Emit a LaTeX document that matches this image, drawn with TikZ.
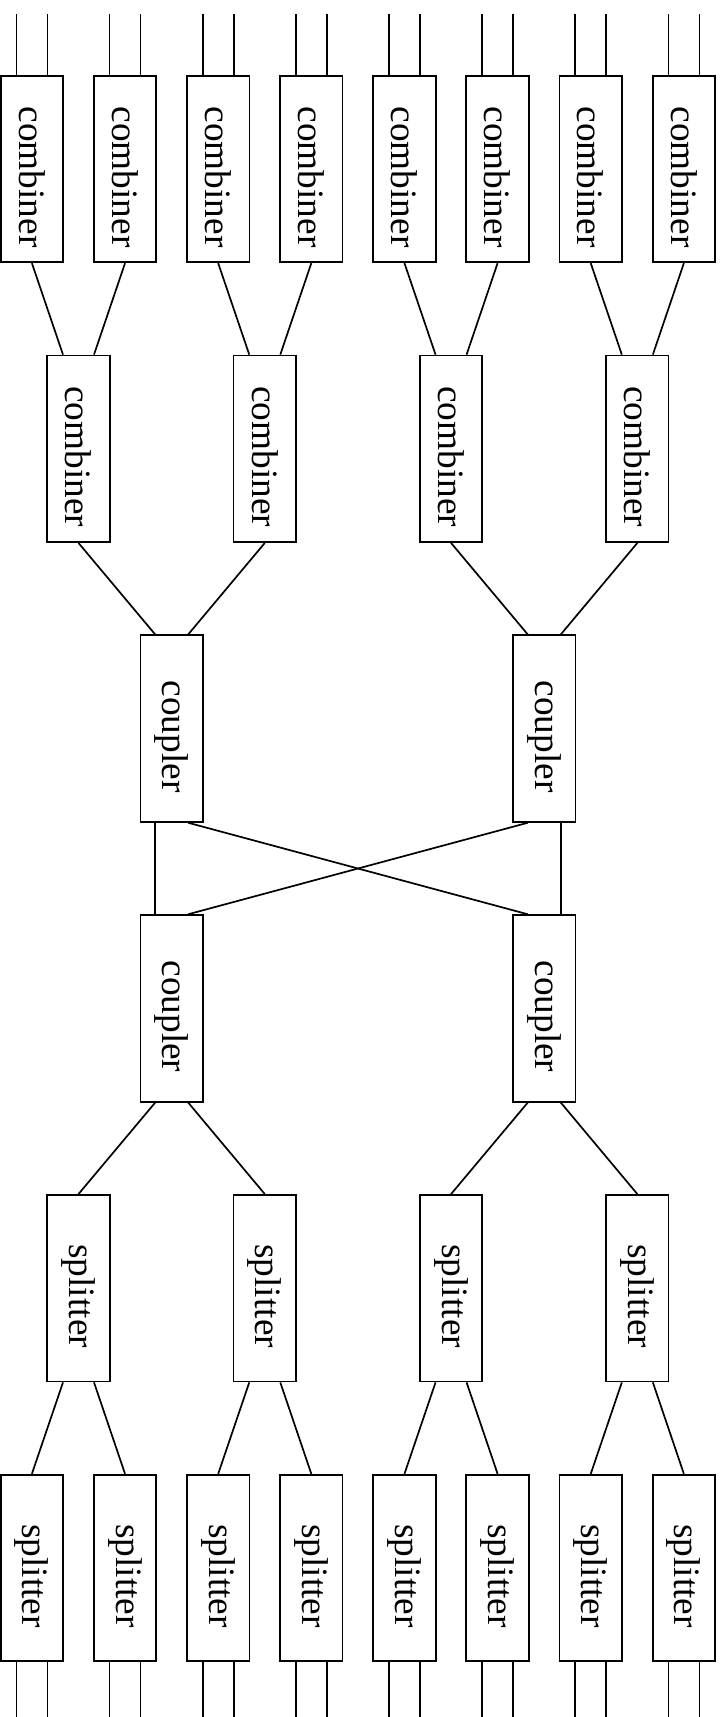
\documentclass[tikz,border=0pt]{standalone}
\usepackage{fontspec}
\setmainfont{Liberation Serif}
\usepackage{graphicx}
\newcommand{\blklabel}[1]{\rotatebox{-90}{\hspace*{16pt}#1}}
\begin{document}
\begin{tikzpicture}[x=1pt,y=-1pt,
  blk/.style={draw, line width=1.8pt, rectangle, minimum width=62.5pt, minimum height=186.5pt, inner sep=0pt,
    font=\fontsize{37.3pt}{40pt}\selectfont},
  wire/.style={line width=1.7pt}]
\useasboundingbox (0,0) rectangle (723,1717);
\coordinate (topedge) at (0,14);
\coordinate (botedge) at (0,1717);
% level 1 combiners and level 2 splitters (8 columns)
\foreach \i in {0,...,7}{
  \pgfmathsetmacro\cx{31.9+93.14*\i}
  \node[blk] (cA\i) at (\cx,169) {\blklabel{combiner}};
  \node[blk] (sA\i) at (\cx,1568) {\blklabel{splitter}};
}
% level 2 combiners and level 1 splitters (4 columns)
\foreach \j in {0,...,3}{
  \pgfmathsetmacro\cx{78.5+186.28*\j}
  \node[blk] (cB\j) at (\cx,448.8) {\blklabel{combiner}};
  \node[blk] (sB\j) at (\cx,1288.2) {\blklabel{splitter}};
}
% couplers
\foreach \k in {0,1}{
  \pgfmathsetmacro\cx{171.7+372.57*\k}
  \node[blk] (cp\k) at (\cx,728.6) {\blklabel{coupler}};
  \node[blk] (cq\k) at (\cx,1008.4) {\blklabel{coupler}};
}
% wires of the 8 columns
\foreach \i in {0,...,7}{
  \pgfmathtruncatemacro\j{int(\i/2)}
  \pgfmathsetmacro\s{(2*mod(\i,2)-1)*15.5}
  \draw[wire] ([xshift=-15.5pt]cA\i.north) -- ([xshift=-15.5pt]cA\i.north |- topedge);
  \draw[wire] ([xshift=15.5pt]cA\i.north) -- ([xshift=15.5pt]cA\i.north |- topedge);
  \draw[wire] (cA\i.south) -- ([xshift=\s pt]cB\j.north);
  \draw[wire] ([xshift=\s pt]sB\j.south) -- (sA\i.north);
  \draw[wire] ([xshift=-15.5pt]sA\i.south) -- ([xshift=-15.5pt]sA\i.south |- botedge);
  \draw[wire] ([xshift=15.5pt]sA\i.south) -- ([xshift=15.5pt]sA\i.south |- botedge);
}
% wires of the 4 columns
\foreach \j in {0,...,3}{
  \pgfmathtruncatemacro\k{int(\j/2)}
  \pgfmathsetmacro\s{(2*mod(\j,2)-1)*16.5}
  \draw[wire] (cB\j.south) -- ([xshift=\s pt]cp\k.north);
  \draw[wire] ([xshift=\s pt]cq\k.south) -- (sB\j.north);
}
% coupler interconnection
\draw[wire] ([xshift=-16.5pt]cp0.south) -- ([xshift=-16.5pt]cq0.north);
\draw[wire] ([xshift=16.5pt]cp0.south) -- ([xshift=-16.5pt]cq1.north);
\draw[wire] ([xshift=-16.5pt]cp1.south) -- ([xshift=16.5pt]cq0.north);
\draw[wire] ([xshift=16.5pt]cp1.south) -- ([xshift=16.5pt]cq1.north);
\end{tikzpicture}
\end{document}
